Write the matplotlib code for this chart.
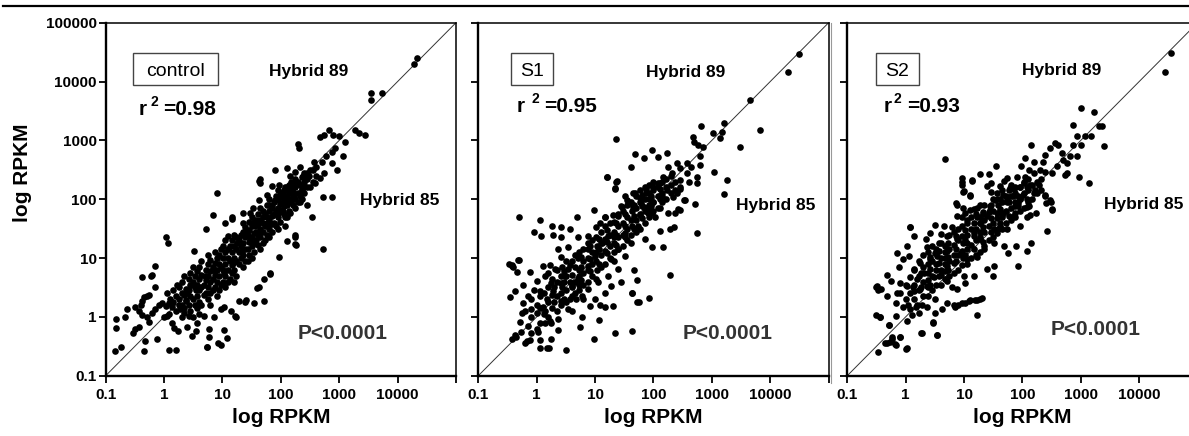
import numpy as np
import matplotlib
matplotlib.use('Agg')
import matplotlib.pyplot as plt
from matplotlib.patches import Rectangle
from matplotlib.lines import Line2D

plt.rcParams['font.family'] = ['Liberation Sans', 'DejaVu Sans']

# log10(RPKM): (Hybrid 85, Hybrid 89) per gene
control_log = [
    # lower tail
    (-0.84, -0.58), (-0.74, -0.52), (-0.83, -0.19), (-0.82, -0.03), (-0.67, -0.01), (-0.63, 0.13),
    (-0.49, 0.16), (-0.43, 0.10), (-0.40, 0.21), (-0.37, 0.27), (-0.34, 0.33), (-0.26, 0.38),
    (-0.29, 0.35), (-0.15, 0.50), (-0.37, 0.67), (-0.23, 0.70), (-0.16, 0.87), (-0.54, -0.27),
    (-0.49, -0.21), (-0.43, -0.18), (-0.33, -0.41), (-0.34, -0.58), (-0.12, -0.37), (0.08, -0.56),
    (0.21, -0.56), (-0.37, 0.04), (-0.29, -0.01), (-0.26, -0.08), (-0.20, 0.07), (-0.15, 0.13),
    (-0.09, 0.21), (-0.03, 0.24), (0.03, 0.19), (0.08, 0.24), (0.14, 0.16), (0.00, -0.01),
    (0.05, 0.02), (0.13, -0.10), (0.17, -0.19), (0.23, -0.24), (0.25, 0.21), (0.28, 0.13),
    (0.37, 0.27), (0.34, 0.07), (0.42, 0.02), (0.40, -0.18), (0.48, -0.33), (0.54, -0.24),
    (0.57, -0.10), (0.68, 0.02), (0.77, -0.20), (0.77, -0.35), (0.74, -0.52), (0.97, -0.47),
    (1.02, -0.22), (1.08, -0.36), (0.85, -0.01), (0.97, 0.13), (1.02, 0.16), (1.14, 0.10),
    (1.22, 0.02), (1.24, 0.00), (1.28, 0.27), (1.39, 0.25), (1.54, 0.24), (1.71, 0.27), (1.41, 0.28),
    (1.62, 0.50), (1.71, 0.64), (1.82, 0.73), (1.59, 0.49), (1.81, 0.75), (1.96, 1.01), (2.11, 1.29),
    (2.25, 1.35), (2.26, 1.23), (2.53, 1.70), (0.73, -0.51), (0.92, -0.44),
    (0.03, 1.35), (0.07, 1.26), (0.51, 1.12), (0.71, 1.50), (0.83, 1.74), (0.91, 2.11), (1.62, 2.31),
    (1.05, 1.60), (1.17, 1.66), (-0.21, 0.71),
    # core
    (0.1, 0.3), (0.15, 0.45), (0.2, 0.1), (0.2, 0.35), (0.05, 0.4), (0.22, 0.55),
    (0.3, 0.0), (0.3, 0.2), (0.3, 0.4), (0.3, 0.6), (0.38, 0.28), (0.38, 0.48),
    (0.45, 0.1), (0.45, 0.35), (0.45, 0.55), (0.45, 0.75), (0.53, 0.2), (0.53, 0.5), (0.53, 0.7),
    (0.6, 0.05), (0.6, 0.25), (0.6, 0.45), (0.6, 0.65), (0.6, 0.85), (0.68, 0.38), (0.68, 0.55),
    (0.75, 0.3), (0.75, 0.5), (0.75, 0.7), (0.75, 0.9), (0.75, 1.05), (0.83, 0.45), (0.83, 0.65),
    (0.83, 0.85), (0.9, 0.35), (0.9, 0.6), (0.9, 0.8), (0.9, 1.0), (0.98, 0.55), (0.98, 0.85),
    (0.98, 1.15), (1.05, 0.5), (1.05, 0.7), (1.05, 0.9), (1.05, 1.1), (1.05, 1.3), (1.13, 0.65),
    (1.13, 0.95), (1.13, 1.2), (1.2, 0.6), (1.2, 0.8), (1.2, 1.0), (1.2, 1.2), (1.2, 1.4),
    (1.28, 0.9), (1.28, 1.1), (1.28, 1.3), (1.35, 0.85), (1.35, 1.05), (1.35, 1.25), (1.35, 1.45),
    (1.35, 1.6), (1.43, 0.95), (1.43, 1.15), (1.43, 1.4), (1.5, 1.0), (1.5, 1.2), (1.5, 1.35),
    (1.5, 1.55), (1.5, 1.7), (1.58, 1.3), (1.58, 1.45), (1.58, 1.65), (1.65, 1.15), (1.65, 1.35),
    (1.65, 1.5), (1.65, 1.65), (1.65, 1.85), (1.73, 1.3), (1.73, 1.55), (1.73, 1.75), (1.8, 1.35),
    (1.8, 1.5), (1.8, 1.65), (1.8, 1.8), (1.8, 2.0), (1.88, 1.6), (1.88, 1.75), (1.88, 1.95),
    (1.95, 1.5), (1.95, 1.7), (1.95, 1.85), (1.95, 2.0), (1.95, 2.15), (2.03, 1.8), (2.03, 1.95),
    (2.03, 2.1), (2.1, 1.7), (2.1, 1.9), (2.1, 2.05), (2.1, 2.2), (2.18, 1.95), (2.18, 2.1),
    (2.18, 2.3), (2.25, 1.85), (2.25, 2.0), (2.25, 2.2), (2.25, 2.35), (2.33, 2.05), (2.33, 2.25),
    (2.4, 2.1), (2.4, 2.3), (2.4, 2.45), (2.55, 2.3), (2.55, 2.5),
    (0.08, 0.05), (0.15, 0.25), (0.25, 0.3), (0.25, 0.5), (0.34, 0.15), (0.34, 0.38), (0.34, 0.7),
    (0.42, 0.2), (0.42, 0.45), (0.42, 0.65), (0.49, 0.0), (0.49, 0.3), (0.49, 0.6), (0.49, 0.85),
    (0.57, 0.15), (0.57, 0.35), (0.57, 0.55), (0.57, 0.78), (0.64, 0.2), (0.64, 0.5), (0.64, 0.72),
    (0.64, 0.95), (0.71, 0.4), (0.71, 0.62), (0.71, 0.8), (0.79, 0.2), (0.79, 0.4), (0.79, 0.6),
    (0.79, 0.78), (0.79, 0.97), (0.87, 0.5), (0.87, 0.72), (0.87, 0.92), (0.87, 1.1), (0.94, 0.45),
    (0.94, 0.7), (0.94, 0.9), (0.94, 1.05), (1.01, 0.6), (1.01, 0.8), (1.01, 1.0), (1.01, 1.2),
    (1.09, 0.6), (1.09, 0.8), (1.09, 1.0), (1.09, 1.38), (1.16, 0.75), (1.16, 0.88), (1.16, 1.1),
    (1.16, 1.3), (1.24, 0.7), (1.24, 0.95), (1.24, 1.15), (1.24, 1.35), (1.31, 1.0), (1.31, 1.2),
    (1.31, 1.4), (1.39, 0.95), (1.39, 1.15), (1.39, 1.35), (1.39, 1.52), (1.46, 1.05), (1.46, 1.28),
    (1.46, 1.48), (1.46, 1.62), (1.54, 1.1), (1.54, 1.25), (1.54, 1.42), (1.54, 1.62), (1.61, 1.22),
    (1.61, 1.4), (1.61, 1.58), (1.61, 1.75), (1.69, 1.25), (1.69, 1.45), (1.69, 1.6), (1.69, 1.8),
    (1.76, 1.4), (1.76, 1.6), (1.76, 1.7), (1.76, 1.9), (1.84, 1.45), (1.84, 1.58), (1.84, 1.72),
    (1.84, 1.88), (1.91, 1.55), (1.91, 1.8), (1.91, 2.05), (1.99, 1.62), (1.99, 1.78), (1.99, 1.92),
    (1.99, 2.08), (2.06, 1.75), (2.06, 1.88), (2.06, 2.0), (2.06, 2.15), (2.14, 1.8), (2.14, 2.0),
    (2.14, 2.12), (2.14, 2.25), (2.21, 1.9), (2.21, 2.12), (2.21, 2.27), (2.29, 1.95), (2.29, 2.1),
    (2.29, 2.3), (2.36, 2.0), (2.36, 2.18), (2.36, 2.38), (2.44, 2.2), (2.44, 2.35), (2.48, 2.4),
    (2.6, 2.4),
    (1.03, 0.75), (1.18, 0.92), (1.33, 1.12), (1.48, 1.3), (1.63, 1.45), (1.78, 1.58), (1.93, 1.75),
    (2.08, 1.95), (2.23, 2.08), (2.38, 2.25), (1.1, 1.15), (1.25, 1.25), (1.4, 1.45), (1.55, 1.55),
    (1.7, 1.7), (1.85, 1.85), (2.0, 2.05), (2.15, 2.18), (0.7, 0.7), (0.85, 0.8), (0.55, 0.45),
    (0.4, 0.4),
    # upper tail
    (4.34, 4.40), (4.28, 4.30), (3.55, 3.81), (3.74, 3.81), (3.54, 3.68), (2.83, 3.18), (2.74, 3.09),
    (2.67, 3.05), (2.90, 3.09), (3.00, 3.07), (3.10, 2.98), (3.07, 2.73), (3.27, 3.17), (3.34, 3.13),
    (3.44, 3.09), (2.29, 2.94), (2.31, 2.87), (2.93, 2.87), (2.87, 2.81), (2.78, 2.73), (2.70, 2.64),
    (2.61, 2.55), (2.56, 2.64), (2.50, 2.50), (2.44, 2.44), (2.33, 2.55), (2.38, 2.39), (2.24, 2.47),
    (2.16, 2.39), (2.10, 2.53), (1.90, 2.50), (2.96, 2.50), (2.87, 2.61), (2.74, 2.44), (2.67, 2.36),
    (2.58, 2.27), (2.50, 2.21), (1.64, 2.34), (1.64, 2.27), (1.84, 2.23), (1.96, 2.24), (2.07, 2.21),
    (2.19, 2.19), (2.36, 2.16), (2.21, 2.04), (2.33, 1.96), (2.44, 1.90), (2.01, 2.10), (1.90, 1.99),
    (1.76, 2.07), (2.73, 2.04), (2.87, 2.03), (1.16, 1.69), (1.36, 1.77),
    (1.47, 1.77), (1.53, 1.85), (1.63, 1.99), (1.79, 1.90), (1.99, 1.82), (2.16, 1.76),
    (2.07, 1.70), (2.73, 1.15), (2.24, 1.24), (2.24, 1.39), (2.07, 1.55),
]

s1_log = [
    (-0.30, 1.70), (0.05, 1.64), (0.69, 1.69), (0.98, 1.82), (1.21, 2.37), (1.38, 2.31), (1.34, 2.18),
    (-0.04, 1.44), (0.08, 1.37), (0.26, 1.55), (0.41, 1.52), (0.28, 1.40), (0.41, 1.35), (0.57, 1.49),
    (-0.43, 0.89), (-0.30, 0.97), (-0.40, 0.84), (-0.33, 0.76), (-0.11, 0.77), (-0.24, 0.54),
    (-0.37, 0.44), (-0.46, 0.34), (-0.23, 0.24), (-0.15, 0.36), (-0.25, 0.07), (-0.29, -0.08),
    (-0.27, -0.26), (-0.43, -0.37), (-0.38, -0.31), (-0.17, -0.41), (-0.09, -0.27), (0.03, -0.26),
    (0.05, -0.39), (0.05, -0.53), (0.21, -0.53), (0.24, -0.37), (0.36, -0.22), (0.51, -0.56),
    (0.74, -0.18), (0.98, -0.37), (1.06, -0.06), (1.34, -0.28), (1.64, -0.24), (1.63, 0.40),
    (1.76, 0.25), (1.92, 0.32), (1.72, 0.63), (1.66, 0.79), (2.28, 0.71), (1.97, 1.19), (2.16, 1.18),
    (1.85, 1.32), (2.12, 1.46), (2.29, 1.50), (2.36, 1.52), (2.42, 1.83), (2.53, 1.99), (2.60, 2.29),
    (2.45, 2.17), (2.33, 2.03), (1.31, 0.19), (1.17, 0.16), (1.08, 0.21), (0.91, 0.19), (0.77, -0.01),
    (0.68, 0.30), (0.42, 0.27), (0.37, -0.04), (0.23, -0.07), (0.14, -0.11), (0.00, 0.06), (-0.09, 0.13),
    (0.11, 0.16), (0.17, 0.30), (0.28, 0.44), (0.05, 0.44), (0.00, 0.61), (0.14, 0.70), (0.31, 0.81),
    (0.11, 0.87), (0.23, 0.89), (0.42, 1.01), (0.54, 1.18), (0.37, 1.15), (0.71, 1.35), (0.88, 1.38),
    (1.02, 1.52), (1.08, 1.60), (1.17, 1.69), (1.51, 2.06), (1.68, 2.11), (1.88, 2.17), (2.08, 2.28),
    (1.45, 1.89), (1.59, 1.94), (1.39, 1.72), (1.79, 1.94), (1.91, 1.77), (2.02, 1.69), (1.74, 1.55),
    (1.51, 1.43), (1.62, 1.26), (1.39, 1.15), (1.28, 0.98), (1.51, 1.04), (1.39, 0.81), (1.22, 0.70),
    (1.05, 0.59), (0.88, 0.47), (1.28, 0.53), (1.45, 0.59), (0.71, 0.64), (0.60, 0.52), (0.48, 0.70),
    (0.88, 0.87), (1.00, 1.04), (0.71, 1.00), (1.11, 1.26), (1.22, 1.38), (0.88, 1.15), (0.54, 0.81),
    (0.42, 0.58), (0.25, 0.58), (0.60, 0.36), (0.54, 0.13), (0.77, 0.36), (1.00, 0.30), (1.17, 0.41),
    (2.75, 1.42), (1.64, 0.40), (1.72, 0.26), (-0.47, 0.90), (-0.42, 0.87), (-0.32, 0.96),
    (-0.36, -0.34), (-0.20, -0.44), (-0.11, -0.39), (0.18, -0.53),
    # core
    (-0.1, 0.0), (-0.1, 0.3), (0.05, -0.1), (0.05, 0.15), (0.05, 0.35), (0.2, 0.0), (0.2, 0.25),
    (0.2, 0.5), (0.35, 0.1), (0.35, 0.35), (0.35, 0.6), (0.35, 0.8), (0.43, 0.5), (0.43, 0.85),
    (0.5, 0.25), (0.5, 0.45), (0.5, 0.7), (0.5, 0.95), (0.65, 0.4), (0.65, 0.6), (0.65, 0.85),
    (0.65, 1.05), (0.73, 0.7), (0.73, 0.45), (0.8, 0.55), (0.8, 0.75), (0.8, 0.95), (0.8, 1.15),
    (0.95, 0.7), (0.95, 0.9), (0.95, 1.1), (0.95, 1.3), (1.03, 0.8), (1.03, 1.2), (1.1, 0.85),
    (1.1, 1.05), (1.1, 1.25), (1.1, 1.45), (1.25, 1.0), (1.25, 1.2), (1.25, 1.4), (1.25, 1.6),
    (1.33, 1.1), (1.33, 1.45), (1.4, 1.15), (1.4, 1.35), (1.4, 1.55), (1.4, 1.75), (1.55, 1.3),
    (1.55, 1.5), (1.55, 1.7), (1.55, 1.9), (1.63, 1.55), (1.63, 1.8), (1.7, 1.45), (1.7, 1.65),
    (1.7, 1.85), (1.7, 2.05), (1.85, 1.6), (1.85, 1.8), (1.85, 2.0), (1.85, 2.2), (1.93, 1.9),
    (1.93, 2.1), (2.0, 1.8), (2.0, 1.95), (2.0, 2.15), (2.0, 2.3), (2.15, 1.95), (2.15, 2.1),
    (2.15, 2.3), (2.3, 2.1), (2.3, 2.25), (2.3, 2.4),
    (0.12, 0.05), (0.12, 0.4), (0.27, 0.15), (0.27, 0.38), (0.27, 0.65), (0.42, 0.2), (0.42, 0.4),
    (0.42, 0.7), (0.57, 0.3), (0.57, 0.6), (0.57, 0.88), (0.72, 0.55), (0.72, 0.8), (0.72, 1.1),
    (0.87, 0.6), (0.87, 0.8), (0.87, 1.0), (0.87, 1.25), (1.02, 0.65), (1.02, 0.95), (1.02, 1.1),
    (1.02, 1.35), (1.17, 0.9), (1.17, 1.12), (1.17, 1.32), (1.17, 1.55), (1.32, 0.95), (1.32, 1.25),
    (1.32, 1.35), (1.32, 1.62), (1.47, 1.2), (1.47, 1.4), (1.47, 1.6), (1.47, 1.8), (1.62, 1.4),
    (1.62, 1.65), (1.62, 1.95), (1.77, 1.5), (1.77, 1.75), (1.77, 1.95), (1.77, 2.15), (1.92, 1.7),
    (1.92, 1.85), (1.92, 2.0), (1.92, 2.25), (2.07, 1.85), (2.07, 2.05), (2.07, 2.2), (2.22, 2.0),
    (2.22, 2.2), (2.22, 2.35), (2.37, 2.15), (2.37, 2.3), (0.6, 0.1), (0.8, 0.3), (0.2, 0.75),
    (-0.05, 0.45), (-0.2, 0.1), (-0.15, -0.15), (0.0, -0.2),
    (0.3, 0.25), (0.3, 0.5), (0.46, 0.3), (0.46, 0.6), (0.46, 0.78), (0.61, 0.5), (0.61, 0.72),
    (0.61, 0.95), (0.76, 0.62), (0.76, 0.85), (0.76, 1.02), (0.91, 0.78), (0.91, 0.98), (0.91, 1.2),
    (1.06, 0.9), (1.06, 1.15), (1.06, 1.32), (1.21, 1.08), (1.21, 1.28), (1.21, 1.48), (1.36, 1.22),
    (1.36, 1.4), (1.36, 1.6), (1.51, 1.35), (1.51, 1.55), (1.51, 1.75), (1.66, 1.5), (1.66, 1.72),
    (1.66, 1.9), (1.81, 1.68), (1.81, 1.88), (1.81, 2.08), (1.96, 1.88), (1.96, 2.05), (2.11, 2.0),
    (2.11, 2.18), (0.15, 0.1), (0.0, 0.2), (0.25, -0.1),
    # upper tail
    (4.49, 4.47), (4.30, 4.16), (3.65, 3.69), (3.21, 3.29), (2.81, 3.24), (3.02, 3.12), (3.17, 3.15),
    (3.14, 3.04), (3.82, 3.17), (3.49, 2.88), (2.68, 3.05), (2.69, 2.98), (2.77, 2.92), (2.85, 2.89),
    (2.79, 2.74), (1.36, 3.02), (1.68, 2.77), (1.83, 2.70), (1.97, 2.83), (2.08, 2.72), (2.23, 2.79),
    (1.61, 2.55), (2.25, 2.55), (2.40, 2.61), (2.57, 2.61), (2.45, 2.53), (2.65, 2.55), (2.80, 2.58),
    (2.74, 2.38), (2.75, 2.28), (3.04, 2.46), (3.26, 2.33), (3.20, 2.09), (1.20, 2.38), (1.36, 2.30),
    (1.34, 2.19), (1.17, 1.70), (1.31, 1.73), (2.54, 1.99), (2.71, 1.92), (2.45, 1.82), (2.37, 1.77),
    (2.25, 1.77), (2.17, 2.38), (2.31, 2.44), (2.11, 2.27), (2.00, 2.21), (1.88, 2.10), (1.77, 2.02),
    (1.65, 2.10), (1.54, 1.99), (1.46, 1.87), (1.65, 1.87), (1.83, 1.87), (2.00, 1.96), (2.14, 2.05),
    (2.23, 2.16), (2.45, 2.21), (2.40, 2.10), (1.97, 1.76), (2.11, 1.85), (1.77, 1.73), (2.45, 2.33),
    (2.57, 2.44),
]

s2_log = [
    (-0.48, -0.60), (-0.32, -0.44), (-0.23, -0.37), (-0.17, -0.47), (-0.09, -0.35), (0.01, -0.55),
    (-0.29, -0.13), (-0.16, 0.02), (-0.44, -0.01), (0.03, -0.07), (0.11, 0.04), (0.23, 0.07),
    (0.28, -0.27), (0.54, -0.30), (0.47, -0.10), (-0.16, 0.24), (-0.04, 0.16), (0.04, 0.21),
    (0.08, 0.13), (0.17, 0.16), (0.28, 0.21), (0.37, 0.16), (0.51, 0.07), (0.62, 0.13), (0.71, 0.24),
    (0.82, 0.21), (0.97, 0.24), (1.08, 0.27), (1.19, 0.29), (1.28, 0.30), (1.23, 0.04), (-0.49, 0.52),
    (-0.43, 0.47), (-0.32, 0.36), (-0.32, 0.72), (-0.25, 0.61), (-0.15, 0.41), (-0.09, 0.58),
    (-0.12, 0.84), (-0.15, 1.08), (-0.04, 0.98), (0.05, 1.03), (0.08, 1.52), (0.14, 1.38), (0.34, 1.32),
    (0.41, 1.43), (0.51, 1.57), (0.66, 1.55), (0.79, 1.52), (0.97, 2.29), (1.14, 2.31), (1.00, 2.14),
    (0.88, 1.91), (1.11, 2.06), (1.02, 1.77), (2.42, 1.46), (2.50, 1.83), (2.49, 1.95), (2.39, 2.06),
    (1.92, 0.87), (2.07, 1.12), (2.15, 1.26), (1.89, 1.21), (1.75, 1.08), (1.68, 1.21), (1.50, 0.70),
    (1.51, 0.87), (1.39, 0.81), (1.17, 0.70), (1.02, 0.58), (0.88, 0.47), (0.71, 0.61), (0.60, 0.72),
    (0.48, 0.67), (0.37, 0.53), (0.25, 0.47), (0.14, 0.44), (0.03, 0.52), (0.20, 0.64), (0.31, 0.75),
    (0.14, 0.81), (0.25, 0.92), (0.42, 0.98), (0.54, 1.04), (0.37, 1.18), (0.57, 1.26), (0.71, 1.12),
    (0.82, 0.92), (0.71, 0.87), (0.94, 1.09), (1.05, 1.26), (0.88, 1.32), (1.17, 1.43), (1.28, 1.32),
    (1.05, 0.98), (1.22, 1.01), (1.34, 1.15), (1.51, 1.26), (1.28, 1.60), (1.39, 1.72), (1.51, 1.49),
    (1.62, 1.60), (1.45, 1.89), (1.62, 1.83), (1.74, 2.00), (1.85, 2.17), (2.02, 2.28), (1.96, 2.00),
    (2.11, 1.89), (2.19, 2.11), (2.28, 2.25), (1.85, 1.72), (1.74, 1.49), (1.96, 1.55), (2.08, 1.69),
    (1.28, 1.91), (1.17, 1.83), (1.56, 2.11), (1.39, 2.23), (1.68, 2.31), (1.05, 1.60), (0.88, 1.72),
    (0.71, 1.38), (0.60, 1.41), (0.51, 1.09), (0.03, 1.21),
    (1.30, 0.32), (1.22, 0.29), (1.10, 0.29), (1.02, 0.23), (0.90, 0.20), (0.84, 0.16), (0.53, -0.31),
    (0.27, -0.28), (0.47, -0.08), (0.02, -0.53), (-0.35, -0.45), (-0.27, -0.42), (-0.18, -0.46),
    (-0.24, -0.34), (-0.10, -0.35), (-0.50, 0.03), (-0.44, 0.00), (-0.28, -0.14), (-0.50, 0.51),
    (-0.47, 0.46), (0.07, 1.53),
    # core
    (0.0, 0.3), (0.0, 0.55), (0.15, 0.3), (0.15, 0.55), (0.15, 0.8), (0.3, 0.35), (0.3, 0.6),
    (0.3, 0.85), (0.3, 1.05), (0.38, 0.5), (0.38, 0.75), (0.45, 0.45), (0.45, 0.7), (0.45, 0.95),
    (0.45, 1.2), (0.6, 0.55), (0.6, 0.8), (0.6, 1.0), (0.6, 1.25), (0.68, 0.9), (0.68, 1.1),
    (0.75, 0.7), (0.75, 0.95), (0.75, 1.15), (0.75, 1.4), (0.9, 0.8), (0.9, 1.05), (0.9, 1.3),
    (0.9, 1.5), (0.98, 1.0), (0.98, 1.25), (1.05, 0.9), (1.05, 1.15), (1.05, 1.4), (1.05, 1.65),
    (1.2, 1.05), (1.2, 1.3), (1.2, 1.5), (1.2, 1.75), (1.28, 1.35), (1.28, 1.6), (1.35, 1.2),
    (1.35, 1.45), (1.35, 1.65), (1.35, 1.9), (1.5, 1.35), (1.5, 1.6), (1.5, 1.8), (1.5, 2.0),
    (1.58, 1.5), (1.58, 1.9), (1.65, 1.5), (1.65, 1.7), (1.65, 1.95), (1.65, 2.15), (1.8, 1.65),
    (1.8, 1.85), (1.8, 2.05), (1.8, 2.25), (1.88, 1.95), (1.88, 2.1), (1.95, 1.8), (1.95, 2.0),
    (1.95, 2.2), (2.1, 1.95), (2.1, 2.15), (2.1, 2.35), (2.25, 2.1), (2.25, 2.3),
    (0.08, 0.4), (0.08, 0.68), (0.22, 0.45), (0.22, 0.7), (0.22, 0.95), (0.38, 0.35), (0.38, 0.62),
    (0.38, 0.9), (0.38, 1.1), (0.52, 0.55), (0.52, 0.8), (0.52, 0.9), (0.52, 1.15), (0.67, 0.65),
    (0.67, 0.78), (0.67, 1.0), (0.67, 1.2), (0.82, 0.75), (0.82, 1.05), (0.82, 1.22), (0.82, 1.45),
    (0.97, 0.88), (0.97, 1.12), (0.97, 1.38), (0.97, 1.55), (1.12, 1.0), (1.12, 1.22), (1.12, 1.5),
    (1.12, 1.7), (1.27, 1.1), (1.27, 1.45), (1.27, 1.7), (1.42, 1.3), (1.42, 1.55), (1.42, 1.78),
    (1.57, 1.42), (1.57, 1.68), (1.57, 2.0), (1.72, 1.6), (1.72, 1.8), (1.72, 2.05), (1.87, 1.7),
    (1.87, 1.88), (1.87, 2.2), (2.02, 1.85), (2.02, 2.1), (2.02, 2.3), (2.17, 2.0), (2.17, 2.25),
    (2.32, 2.15), (2.32, 2.35), (0.5, 0.3), (0.8, 0.5), (1.0, 0.7), (0.2, 0.2), (-0.1, 0.4),
    (0.12, 0.5), (0.27, 0.5), (0.27, 0.75), (0.42, 0.55), (0.42, 0.82), (0.42, 1.02), (0.57, 0.7),
    (0.57, 0.92), (0.57, 1.12), (0.72, 0.8), (0.72, 1.02), (0.72, 1.25), (0.87, 0.95), (0.87, 1.15),
    (0.87, 1.38), (1.02, 1.05), (1.02, 1.3), (1.02, 1.48), (1.17, 1.15), (1.17, 1.38), (1.17, 1.6),
    (1.32, 1.28), (1.32, 1.52), (1.32, 1.75), (1.47, 1.45), (1.47, 1.68), (1.47, 1.9), (1.62, 1.55),
    (1.62, 1.78), (1.62, 2.0), (1.77, 1.72), (1.77, 1.95), (1.77, 2.15), (1.92, 1.88), (1.92, 2.05),
    (2.07, 2.0), (2.07, 2.2), (2.22, 2.15),
    # upper tail
    (4.54, 4.49), (4.45, 4.17), (3.00, 3.55), (3.22, 3.48), (2.86, 3.26), (3.32, 3.24), (3.37, 3.24),
    (2.93, 3.08), (3.07, 3.07), (3.17, 3.07), (3.40, 2.90), (2.15, 2.92), (2.56, 2.95), (2.61, 2.92),
    (2.47, 2.87), (2.39, 2.75), (2.67, 2.79), (2.87, 2.92), (3.01, 2.92), (2.81, 2.73), (2.93, 2.73),
    (2.69, 2.67), (2.76, 2.61), (2.59, 2.56), (2.04, 2.70), (2.19, 2.64), (2.36, 2.64), (1.97, 2.56),
    (2.12, 2.50), (2.30, 2.50), (1.90, 2.38), (2.04, 2.38), (2.19, 2.44), (2.39, 2.47), (2.50, 2.45),
    (2.76, 2.44), (2.73, 2.41), (2.97, 2.38), (3.14, 2.27), (0.68, 2.69), (1.55, 2.56), (1.27, 2.43),
    (1.42, 2.43), (0.97, 2.36), (1.13, 2.32), (1.74, 2.36), (1.47, 2.27), (0.96, 2.25), (0.99, 2.13),
    (1.10, 2.07), (1.61, 2.22), (1.79, 2.19), (1.96, 2.21), (2.13, 2.24), (1.67, 2.07), (1.84, 2.05),
    (2.01, 2.07), (1.53, 1.99), (1.73, 1.96), (1.93, 1.93), (2.07, 1.87), (2.39, 2.07), (2.48, 1.99),
    (2.41, 1.93), (2.50, 1.82), (0.87, 1.93), (0.99, 1.85), (1.10, 1.82), (1.22, 1.85), (1.33, 1.79),
    (1.44, 1.82), (1.56, 1.76), (1.67, 1.76), (1.87, 1.76), (2.13, 1.73), (2.24, 1.76), (0.96, 1.70),
    (1.22, 1.70), (1.47, 2.13),
]

names = ['control', 'S1', 'S2']
r2_values = ['0.98', '0.95', '0.93']
p_label = 'P<0.0001'
ticks = [0.1, 1, 10, 100, 1000, 10000, 100000]
x_tick_labels = ['0.1', '1', '10', '100', '1000', '10000', '']
y_tick_labels = ['0.1', '1', '10', '100', '1000', '10000', '100000']

fig = plt.figure(figsize=(11.89, 4.36), dpi=100)

lefts = [0.0889, 0.4023, 0.7126]
box_x = [(0.078, 0.321), (0.093, 0.214), (0.081, 0.205)]
r_x = [(0.095, 0.127, 0.164), (0.110, 0.151, 0.188), (0.103, 0.133, 0.171)]
r_y = [(0.738, 0.764), (0.748, 0.772), (0.747, 0.772)]
h89_pos = [(0.578, 0.849), (0.593, 0.847), (0.611, 0.852)]
h85_pos = [(0.838, 0.484), (0.848, 0.469), (0.845, 0.471)]
p_pos = [(0.677, 0.103), (0.713, 0.103), (0.708, 0.115)]

for i, pts in enumerate([control_log, s1_log, s2_log]):
    ax = fig.add_axes([lefts[i], 0.1383, 0.2946, 0.8096])
    xy = 10 ** np.array(pts)
    ax.plot([0.1, 1e5], [0.1, 1e5], color='#333333', lw=0.7, zorder=1)
    ax.scatter(xy[:, 0], xy[:, 1], s=23, c='black', linewidths=0, zorder=2)

    ax.set_xscale('log')
    ax.set_yscale('log')
    ax.set_xlim(0.1, 1e5)
    ax.set_ylim(0.1, 1e5)
    ax.set_xticks(ticks)
    ax.set_xticklabels(x_tick_labels)
    ax.set_yticks(ticks)
    ax.set_yticklabels(y_tick_labels if i == 0 else [])
    ax.minorticks_off()
    ax.tick_params(direction='out', length=5, width=1.3, labelsize=11)
    ax.tick_params(axis='x', pad=4)
    ax.tick_params(axis='y', pad=1.5)
    for lbl in ax.get_xticklabels() + ax.get_yticklabels():
        lbl.set_fontweight('bold')
    for side in ['left', 'bottom']:
        ax.spines[side].set_linewidth(1.7)
    for side in ['top', 'right']:
        ax.spines[side].set_linewidth(1.1)
    ax.set_xlabel('log RPKM', fontsize=15, fontweight='bold', labelpad=4)

    x0, x1 = box_x[i]
    ax.add_patch(Rectangle((x0, 0.8235), x1 - x0, 0.0905, transform=ax.transAxes,
                           fill=False, ec='#444444', lw=1.0))
    ax.text((x0 + x1) / 2, 0.849, names[i], transform=ax.transAxes,
            ha='center', va='baseline', fontsize=14)

    ax.text(r_x[i][0], r_y[i][0], 'r', transform=ax.transAxes, ha='left', va='baseline',
            fontsize=15, fontweight='bold')
    ax.text(r_x[i][1], r_y[i][1], '2', transform=ax.transAxes, ha='left', va='baseline',
            fontsize=10, fontweight='bold')
    ax.text(r_x[i][2], r_y[i][0], '=' + r2_values[i], transform=ax.transAxes, ha='left',
            va='baseline', fontsize=15, fontweight='bold')

    ax.text(*h89_pos[i], 'Hybrid 89', transform=ax.transAxes, ha='center', va='baseline',
            fontsize=12.5, fontweight='bold')
    ax.text(*h85_pos[i], 'Hybrid 85', transform=ax.transAxes, ha='center', va='baseline',
            fontsize=12.5, fontweight='bold')
    ax.text(*p_pos[i], p_label, transform=ax.transAxes, ha='center', va='baseline',
            fontsize=15, fontweight='bold', color='#333333')

fig.text(0.0193, 0.604, 'log RPKM', rotation=90, ha='center', va='center',
         fontsize=15, fontweight='bold')

fig.add_artist(Line2D([0.0025, 1.0], [0.986, 0.986], transform=fig.transFigure,
                      color='black', lw=1.6))
fig.add_artist(Line2D([831 / 1189, 831 / 1189], [413 / 436, 53 / 436], transform=fig.transFigure,
                      color='#999999', lw=0.8))

fig.savefig('out.png', dpi=100)
